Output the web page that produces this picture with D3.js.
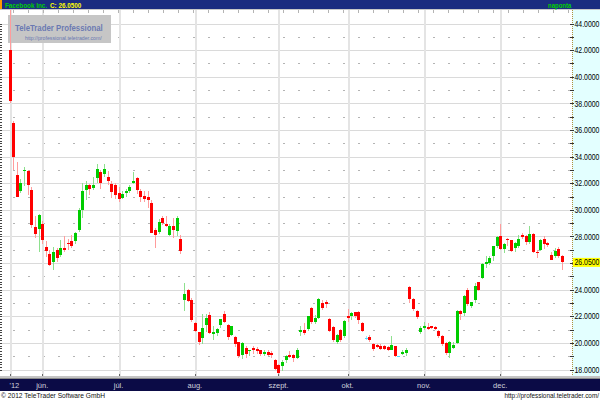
<!DOCTYPE html>
<html><head><meta charset="utf-8">
<script src="https://cdn.jsdelivr.net/npm/d3@7"></script>
<style>html,body{margin:0;padding:0;background:#fff;overflow:hidden}svg{display:block}</style>
</head><body><svg id="c" width="600" height="400"></svg>
<script>
// ---- data ----
const tradingDays = [
  ["2012-05",[18,21,22,23,24,25,29,30,31]],
  ["2012-06",[1,4,5,6,7,8,11,12,13,14,15,18,19,20,21,22,25,26,27,28,29]],
  ["2012-07",[2,3,5,6,9,10,11,12,13,16,17,18,19,20,23,24,25,26,27,30,31]],
  ["2012-08",[1,2,3,6,7,8,9,10,13,14,15,16,17,20,21,22,23,24,27,28,29,30,31]],
  ["2012-09",[4,5,6,7,10,11,12,13,14,17,18,19,20,21,24,25,26,27,28]],
  ["2012-10",[1,2,3,4,5,8,9,10,11,12,15,16,17,18,19,22,23,24,25,26,31]],
  ["2012-11",[1,2,5,6,7,8,9,12,13,14,15,16,19,20,21,23,26,27,28,29,30]],
  ["2012-12",[3,4,5,6,7,10,11,12,13,14,17,18,19,20,21,24,26,27]]
];
const monthLabels = ["'12","jún.","júl.","aug.","szept.","okt.","nov.","dec."];
const open = [42.0,36.5,32.6,31.4,32.9,32.9,31.5,28.7,28.55,28.9,27.2,26.7,26.1,26.95,26.6,27.15,27.5,27.65,27.65,28.5,
 30.0,31.5,31.9,31.65,32.4,32.85,32.7,32.45,31.95,31.9,31.25,30.9,31.3,31.45,32.05,32.4,31.45,31.05,31.0,30.5,
 28.5,28.3,29.4,28.95,28.1,28.8,28.4,27.8,23.2,24.0,23.2,21.5,20.8,20.4,21.35,22.1,20.7,20.75,21.35,22.15,
 21.35,20.6,20.45,20.05,19.1,19.6,19.4,19.6,19.55,19.45,19.15,19.3,19.25,18.75,18.35,18.25,18.75,19.1,19.1,18.9,
 20.8,21.0,21.05,22.6,21.55,21.9,23.0,23.05,21.8,21.2,20.1,21.0,20.5,22.0,22.05,22.3,22.3,21.5,20.4,20.45,
 19.95,19.85,19.8,19.8,19.7,19.5,19.75,19.0,19.2,19.25,24.2,23.3,22.4,20.8,21.1,21.2,21.25,21.2,20.9,20.55,
 20.0,19.25,19.65,20.0,22.4,22.25,24.0,22.75,23.2,24.55,24.9,25.9,26.0,26.5,27.25,28.0,27.05,27.8,27.7,27.1,
 27.25,28.1,28.0,27.6,28.2,26.85,27.0,27.8,27.5,26.6,26.5,27.05,26.5];
const high = [45.0,36.7,33.6,32.3,33.2,33.0,31.7,29.5,29.65,29.15,27.65,27.0,27.2,27.1,27.7,28.0,27.8,28.1,28.3,30.1,
 32.0,32.2,31.95,32.5,33.45,33.0,33.45,32.9,32.2,32.0,31.7,31.4,31.6,31.9,32.85,32.5,31.55,31.4,31.4,30.75,
 28.6,29.3,29.5,29.5,28.9,29.4,29.5,28.1,24.5,24.05,23.4,21.55,20.85,22.15,22.2,22.35,21.25,21.1,21.8,22.4,
 21.4,21.3,20.5,20.1,20.1,19.75,19.5,19.75,19.7,19.5,19.45,19.5,19.4,18.8,18.4,18.7,19.1,19.4,19.2,19.6,
 21.25,21.5,22.0,22.7,22.1,23.35,23.25,23.25,21.9,21.25,20.7,21.05,21.7,22.55,22.35,22.35,22.4,21.6,20.5,20.6,
 20.0,19.95,19.9,19.85,19.8,20.5,19.8,19.05,19.45,19.6,24.25,23.35,22.45,21.25,21.6,21.5,21.3,21.25,20.95,20.6,
 20.1,20.15,20.1,22.5,22.5,23.6,24.1,23.1,24.5,24.6,26.0,26.5,26.55,27.3,28.0,28.9,27.5,27.9,27.75,27.55,
 28.1,28.25,28.1,28.75,28.25,27.0,27.8,28.0,27.6,26.8,27.1,27.2,26.6];
const low = [38.0,33.0,30.95,31.3,31.8,31.1,28.6,27.9,26.85,27.4,26.45,25.75,25.5,26.1,26.45,26.85,26.95,27.1,27.4,28.35,
 29.4,30.7,31.15,31.5,32.05,31.55,32.5,31.9,30.9,30.8,30.55,30.8,31.0,31.25,31.95,31.2,30.55,30.6,30.1,28.25,
 27.15,28.15,28.85,28.7,28.0,27.9,28.0,26.7,22.4,23.05,21.6,20.85,19.85,19.9,20.8,20.7,20.25,20.55,21.1,21.5,
 20.25,20.5,19.7,18.9,18.8,18.9,19.0,19.2,19.2,19.0,19.0,19.0,18.9,18.0,17.6,17.9,18.5,18.9,18.6,18.8,
 20.5,20.6,20.9,21.4,21.4,21.8,22.5,22.6,20.8,20.1,19.9,20.1,20.4,21.6,21.75,21.9,21.4,20.8,20.2,20.1,
 19.4,19.6,19.5,19.5,19.4,19.45,18.95,18.95,19.1,19.0,23.0,22.4,21.8,20.7,21.0,21.0,21.05,21.0,20.4,19.8,
 19.1,18.9,19.55,19.95,21.7,22.0,22.8,22.6,23.0,23.9,24.8,25.6,25.85,26.15,27.1,27.0,26.75,27.25,26.8,26.85,
 27.15,27.8,27.35,27.4,26.75,26.4,26.9,27.05,27.2,26.2,26.4,26.4,25.5];
const close = [38.2,34.0,31.0,32.0,33.0,31.9,28.85,28.2,29.6,27.7,26.9,25.85,26.8,26.35,27.1,27.0,27.4,27.3,28.25,30.0,
 31.4,31.9,31.6,31.85,33.05,32.05,33.1,32.2,31.35,31.1,30.8,31.2,31.45,31.75,32.15,31.5,31.0,30.8,30.7,28.25,
 28.1,29.1,29.0,28.8,28.75,28.5,29.35,26.9,23.7,23.15,21.7,20.9,20.05,21.1,21.9,20.75,20.85,21.05,21.8,21.6,
 20.45,21.25,19.9,19.05,20.0,19.2,19.45,19.45,19.4,19.2,19.3,19.1,19.1,18.05,17.75,18.6,19.0,18.95,18.85,19.5,
 21.0,20.75,22.0,21.6,21.9,23.3,22.6,22.9,20.9,20.25,20.6,20.25,21.65,21.85,22.25,22.0,21.75,20.9,20.4,20.2,
 19.55,19.7,19.55,19.55,19.5,19.85,19.0,19.0,19.35,19.5,23.3,22.55,21.95,21.1,21.25,21.05,21.1,21.05,20.5,19.95,
 19.25,20.1,19.85,22.4,22.2,23.55,22.9,23.05,24.3,24.0,25.95,26.1,26.4,27.25,27.95,27.05,27.4,27.7,26.9,27.5,
 27.8,27.95,27.6,28.15,26.85,26.75,27.75,27.4,27.35,26.25,26.9,26.55,26.05];
const yTickValues = [18,20,22,24,26,28,30,32,34,36,38,40,42,44];
const titleName = "Facebook Inc.";
const lastLabel = "C: 26.0500";
const lastClose = 26.05;

// ---- build ----
const dates = tradingDays.flatMap(([m, ds]) => ds.map(d => m + "-" + String(d).padStart(2, "0")));
const monthStarts = tradingDays.map(([m, ds], k) => ({date: m + "-" + String(ds[0]).padStart(2, "0"), label: monthLabels[k]}));
const data = dates.map((d, i) => ({d, o: open[i], h: high[i], l: low[i], c: close[i]}));

const W = 600, H = 400;
const plotL = 1, plotR = 572, plotT = 10, plotB = 376;
const svg = d3.select("#c");
const font = "'Liberation Sans',Arial,sans-serif";

const x = d3.scalePoint().domain(dates).range([9.5, 562]);
const y = d3.scaleLinear().domain([18, 44]).range([369.5, 23.5]);

svg.append("rect").attr("width", W).attr("height", H).attr("fill", "#fff");
svg.append("rect").attr("x", plotR).attr("y", plotT).attr("width", W - plotR).attr("height", plotB - plotT).attr("fill", "#e3ffff");

const grid = svg.append("g").attr("shape-rendering", "crispEdges");
grid.selectAll("line.hm").data(yTickValues).join("line")
  .attr("x1", plotL).attr("x2", plotR)
  .attr("y1", d => Math.round(y(d)) + 0.5).attr("y2", d => Math.round(y(d)) + 0.5)
  .attr("stroke", "#dadada").attr("stroke-width", 1);
const minorVals = y.ticks(26).filter(v => yTickValues.indexOf(v) < 0);
grid.selectAll("line.hn").data(minorVals).join("line")
  .attr("x1", plotL + 12).attr("x2", plotR)
  .attr("y1", d => Math.round(y(d)) + 0.5).attr("y2", d => Math.round(y(d)) + 0.5)
  .attr("stroke", "#b4b4b4").attr("stroke-dasharray", "2,13");
grid.selectAll("line.v").data(monthStarts).join("line")
  .attr("x1", d => Math.round(x(d.date)) + 0.5).attr("x2", d => Math.round(x(d.date)) + 0.5)
  .attr("y1", plotT).attr("y2", plotB)
  .attr("stroke", "#e4e4e4").attr("stroke-width", 2);
grid.append("line").attr("x1", plotL + 12).attr("x2", plotR).attr("y1", 11.5).attr("y2", 11.5)
  .attr("stroke", "#b4b4b4").attr("stroke-width", 3).attr("stroke-dasharray", "1,14");

// watermark
const wm = svg.append("g");
wm.append("rect").attr("x", 8).attr("y", 15).attr("width", 103).attr("height", 28).attr("fill", "#c6c6c6");
wm.append("text").attr("transform", "translate(15,31) scale(1,1.25)").attr("font-family", font).attr("font-size", 7.8)
  .attr("font-weight", "bold").attr("fill", "#6a79b2").text("TeleTrader Professional");
wm.append("text").attr("x", 25).attr("y", 39.5).attr("font-family", font).attr("font-size", 5.2)
  .attr("fill", "#6a79b2").text("http://professional.teletrader.com/");

// candles
const up = "#00cc00", down = "#ff0000", flat = "#55d8ff";
const colr = d => d.c > d.o ? up : d.c < d.o ? down : flat;
const wickC = d => d.c > d.o ? "#8ee08e" : d.c < d.o ? "#ff9c9c" : "#9fe8ff";
const cg = svg.append("g").attr("shape-rendering", "crispEdges");
cg.selectAll("line.w").data(data).join("line")
  .attr("x1", d => Math.round(x(d.d)) + 0.5).attr("x2", d => Math.round(x(d.d)) + 0.5)
  .attr("y1", d => y(d.h)).attr("y2", d => y(d.l))
  .attr("stroke", wickC).attr("stroke-width", 1);
cg.selectAll("rect.b").data(data).join("rect")
  .attr("x", d => Math.round(x(d.d)) - 1).attr("width", 3)
  .attr("y", d => y(Math.max(d.o, d.c)))
  .attr("height", d => Math.max(1.2, Math.abs(y(d.o) - y(d.c))))
  .attr("fill", colr);

// left edge ticks
const leftAx = svg.append("g").attr("transform", `translate(0,0)`)
  .call(d3.axisRight(y).ticks(130).tickSize(2).tickFormat(""));
leftAx.select(".domain").remove();
leftAx.selectAll(".tick line").attr("stroke", "#444").attr("shape-rendering", "crispEdges");

// right axis
svg.append("line").attr("x1", plotR + 0.5).attr("x2", plotR + 0.5).attr("y1", plotT).attr("y2", plotB)
  .attr("stroke", "#b09040").attr("stroke-dasharray", "1,1");
const rMinor = svg.append("g").attr("transform", `translate(${plotR + 2},0)`)
  .call(d3.axisLeft(y).ticks(26).tickSize(4).tickFormat(""));
rMinor.select(".domain").remove();
rMinor.selectAll(".tick line").attr("stroke", "#333").attr("shape-rendering", "crispEdges");
const rAx = svg.append("g").attr("transform", `translate(${plotR + 2.5},0)`)
  .call(d3.axisRight(y).tickValues(yTickValues).tickSize(0).tickPadding(0).tickFormat(d3.format(".4f")));
rAx.select(".domain").remove();
rAx.selectAll("text").attr("font-family", font).attr("font-size", 6.9).attr("fill", "#000")
  .attr("transform", "scale(1,1.2)");
const lp = svg.append("g").attr("transform", `translate(${plotR + 1},${y(lastClose)})`);
lp.append("rect").attr("x", 0).attr("y", -4.5).attr("width", W - plotR).attr("height", 9).attr("fill", "#ffff00");
lp.append("text").attr("x", 1.5).attr("dy", "0.33em").attr("font-family", font).attr("font-size", 6.9).attr("fill", "#000")
  .attr("transform", "scale(1,1.2)")
  .text(d3.format(".4f")(lastClose));

// top bar
svg.append("rect").attr("x", 0).attr("y", 0).attr("width", W).attr("height", 9).attr("fill", "#1b2c80");
svg.append("rect").attr("x", 0).attr("y", 0).attr("width", 2).attr("height", 9).attr("fill", "#ff9900");
svg.append("line").attr("x1", 0).attr("x2", W).attr("y1", 9.5).attr("y2", 9.5).attr("stroke", "#c8c8c8");
svg.append("text").attr("transform", "translate(5,7.7) scale(1,1.25)").attr("font-family", font).attr("font-weight", "bold")
  .attr("font-size", 6.3).attr("fill", "#00d000").text(titleName);
svg.append("text").attr("transform", "translate(50,7.7) scale(1,1.25)").attr("font-family", font).attr("font-weight", "bold")
  .attr("font-size", 6.3).attr("fill", "#ffff00").text(lastLabel);
svg.append("text").attr("transform", "translate(548,7.5) scale(1,1.2)").attr("font-family", font).attr("font-weight", "bold")
  .attr("font-size", 6).attr("fill", "#00d000").text("naponta");

// bottom axis band
svg.append("rect").attr("x", 0).attr("y", plotB).attr("width", W).attr("height", 3).attr("fill", "#c4c4c4");
svg.append("line").attr("x1", 0).attr("x2", W).attr("y1", plotB + 2.5).attr("y2", plotB + 2.5).attr("stroke", "#8a8a8a");
svg.append("rect").attr("x", 0).attr("y", plotB + 3).attr("width", W).attr("height", 12).attr("fill", "#0b0b46");
const bx = svg.append("g").attr("transform", `translate(0,${plotB})`);
bx.selectAll("line").data(monthStarts).join("line")
  .attr("x1", d => Math.round(x(d.date)) + 0.5).attr("x2", d => Math.round(x(d.date)) + 0.5)
  .attr("y1", -2).attr("y2", 0).attr("stroke", "#666").attr("shape-rendering", "crispEdges");
bx.selectAll("text").data(monthStarts).join("text")
  .attr("x", d => x(d.date))
  .attr("y", 11.5)
  .attr("text-anchor", (d, k) => k === 0 ? "start" : "middle")
  .attr("font-family", font).attr("font-size", 7.5).attr("fill", "#d0d0dc")
  .text(d => d.label);

// footer
svg.append("text").attr("x", 1).attr("y", 398).attr("font-family", font).attr("font-size", 7.5).attr("fill", "#111")
  .attr("textLength", 104).attr("lengthAdjust", "spacingAndGlyphs")
  .text("© 2012 TeleTrader Software GmbH");
svg.append("text").attr("x", 599).attr("y", 398).attr("text-anchor", "end").attr("font-family", font).attr("font-size", 6.4)
  .attr("fill", "#111").text("http://professional.teletrader.com/");
</script></body></html>
